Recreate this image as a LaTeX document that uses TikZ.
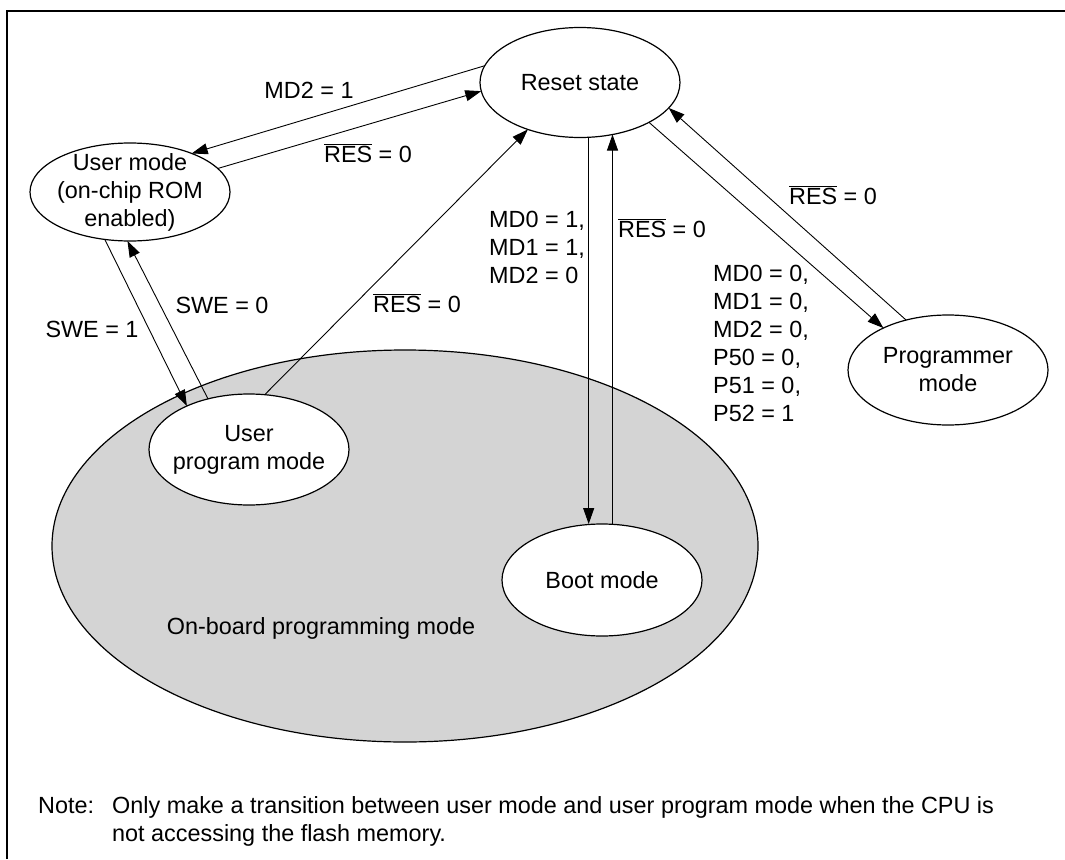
\documentclass[tikz,border=0pt]{standalone}
\usepackage{fontspec}
\setmainfont{Liberation Sans}
\usetikzlibrary{shapes.geometric,arrows.meta}
\definecolor{obgray}{RGB}{212,212,212}
\begin{document}
\begin{tikzpicture}[x=1pt,y=-1pt,
  font=\fontsize{23.4}{28}\selectfont,
  state/.style={ellipse, draw, line width=1.2pt, fill=white, minimum width=200pt, minimum height=110pt, inner sep=0pt, outer sep=0pt},
  arr/.style={-{Triangle[length=16pt,width=11pt]}, line width=0.9pt},
  txt/.style={inner sep=0pt, align=center},
  lbl/.style={inner sep=0pt, align=left}]
\useasboundingbox (0,0) rectangle (1065,859);
% frame
\draw[line width=2pt] (7,859) -- (7,11) -- (1065,11);
% on-board region
\node[ellipse, draw, line width=1.2pt, fill=obgray, minimum width=706pt, minimum height=392pt, inner sep=0pt, outer sep=0pt] (ob) at (405,546) {};
\node[txt] (obt) at (321,628) {On-board programming mode};
% states
\node[state] (R) at (580,82.5) {};
\node[txt] (Rt) at (R) {Reset state};
\node[state, minimum height=98pt] (UM) at (130,192) {};
\node[txt] (UMt) at (UM) {User mode\\(on-chip ROM\\enabled)};
\node[state, minimum height=111pt] (UP) at (249,449.5) {};
\node[txt] (UPt) at (UP) {User\\program mode};
\node[state, minimum height=112pt] (B) at (602,580) {};
\node[txt] (Bt) at (B) {Boot mode};
\node[state] (P) at (948,370) {};
\node[txt] (Pt) at (P) {Programmer\\mode};
% connectors
\draw[arr] (R.170.4) -- (UM.32);
\draw[arr] (UM.15.6) -- (R.185.4);
\draw[arr] (UM.242.2) -- (UP.145.6);
\draw[arr] (UP.129.1) -- (UM.267.7);
\draw[arr] (UP.74.6) -- (R.222.5);
\draw[arr] (R.279.2) -- (R.279.2 |- B.north);
\draw[arr] (B.north -| R.302.2) -- (R.302.2);
\draw[arr] (R.330.6) -- (P.147.7);
\draw[arr] (P.130.9) -- (R.344.2);
% labels
\node[lbl] (l1) at (309,90) {MD2 = 1};
\node[lbl] (l2) at (368,153) {$\overline{\mbox{RES}}$ = 0};
\node[lbl] (l3) at (92,329) {SWE = 1};
\node[lbl] (l4) at (222,305) {SWE = 0};
\node[lbl] (l5) at (417,303) {$\overline{\mbox{RES}}$ = 0};
\node[lbl, anchor=west] (l6) at (489,247) {MD0 = 1,\\MD1 = 1,\\MD2 = 0};
\node[lbl] (l7) at (662,228) {$\overline{\mbox{RES}}$ = 0};
\node[lbl] (l8) at (833,195) {$\overline{\mbox{RES}}$ = 0};
\node[lbl, anchor=west] (l9) at (713,343) {MD0 = 0,\\MD1 = 0,\\MD2 = 0,\\P50 = 0,\\P51 = 0,\\P52 = 1};
% note
\node[inner sep=0pt, anchor=base west] (n1) at (38,813) {Note:};
\node[inner sep=0pt, anchor=base west] (n2) at (112,813) {Only make a transition between user mode and user program mode when the CPU is};
\node[inner sep=0pt, anchor=base west] (n3) at (112,841) {not accessing the flash memory.};
\end{tikzpicture}
\end{document}
